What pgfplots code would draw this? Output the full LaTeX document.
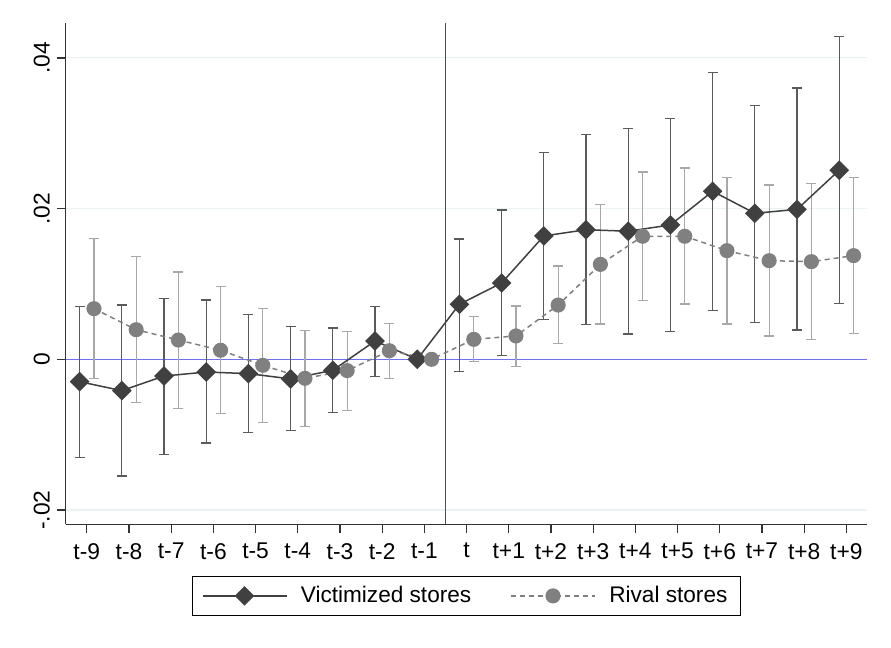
\documentclass[border=0pt]{standalone}
\usepackage{pgfplots}
\pgfplotsset{compat=1.18}
\usepackage{pgfplotstable}
\usepackage{fontspec}
\setmainfont{Liberation Sans}
\definecolor{axisgray}{HTML}{333333}
\definecolor{gridc}{RGB}{234,242,243}
\definecolor{vcol}{HTML}{404040}
\definecolor{vbar}{HTML}{5A5A5A}
\definecolor{rcol}{HTML}{808080}
\definecolor{rbar}{HTML}{A8A8A8}
\definecolor{zeroblue}{rgb}{0.44,0.44,0.94}
\definecolor{vred}{rgb}{0.78,0.08,0.24}

\pgfplotstableread{
i y hi lo
0 -0.00297 0.00698 -0.01306
1 -0.00416 0.00720 -0.01550
2 -0.00222 0.00810 -0.01260
3 -0.00169 0.00787 -0.01110
4 -0.00190 0.00590 -0.00970
5 -0.00260 0.00440 -0.00950
6 -0.00146 0.00416 -0.00710
7 0.00243 0.00703 -0.00230
8 0.00000 0.00000 0.00000
9 0.00730 0.01597 -0.00164
10 0.01013 0.01982 0.00048
11 0.01637 0.02743 0.00526
12 0.01720 0.02980 0.00464
13 0.01700 0.03060 0.00336
14 0.01783 0.03200 0.00367
15 0.02230 0.03810 0.00650
16 0.01938 0.03367 0.00490
17 0.01990 0.03600 0.00390
18 0.02510 0.04280 0.00738
}\victim

\pgfplotstableread{
i y hi lo
0 0.00672 0.01600 -0.00260
1 0.00393 0.01362 -0.00576
2 0.00256 0.01160 -0.00650
3 0.00120 0.00964 -0.00720
4 -0.00080 0.00670 -0.00840
5 -0.00252 0.00385 -0.00890
6 -0.00150 0.00370 -0.00680
7 0.00114 0.00473 -0.00260
8 0.00000 0.00000 0.00000
9 0.00265 0.00566 -0.00027
10 0.00310 0.00708 -0.00093
11 0.00720 0.01239 0.00207
12 0.01260 0.02057 0.00469
13 0.01633 0.02486 0.00778
14 0.01633 0.02540 0.00734
15 0.01442 0.02416 0.00469
16 0.01309 0.02314 0.00310
17 0.01296 0.02331 0.00260
18 0.01376 0.02416 0.00345
}\rival

\begin{document}
\begin{tikzpicture}[x=1pt,y=1pt]
\useasboundingbox (0,0) rectangle (445.5,324);
\begin{axis}[
  at={(32.85pt,61.85pt)}, anchor=south west,
  scale only axis, width=400.9pt, height=250.5pt,
  xmin=-0.5, xmax=18.5, ymin=-0.0219, ymax=0.0446,
  axis x line*=bottom, axis y line*=left,
  axis line style={draw=axisgray, line width=0.65pt},
  tick align=outside, major tick length=4.4pt,
  tick style={draw=axisgray, line width=0.65pt},
  xtick={0,1,...,18},
  xticklabels={t-9,t-8,t-7,t-6,t-5,t-4,t-3,t-2,t-1,t,t+1,t+2,t+3,t+4,t+5,t+6,t+7,t+8,t+9},
  ytick={-0.02,0,0.02,0.04},
  yticklabels={-.02,0,.02,.04},
  scaled y ticks=false,
  ticklabel style={font=\fontsize{11.4}{13}\selectfont},
  yticklabel style={rotate=90, anchor=south},
  xticklabel style={anchor=north, yshift=-1.5pt},
  ymajorgrids, grid style={draw=gridc, line width=0.55pt},
  legend image code/.code={\draw[mark repeat=2, mark phase=2, #1] plot coordinates {(0pt,0pt) (21pt,0pt) (42pt,0pt)};},
  legend style={at={(0.5,0)}, anchor=north, yshift=-25.85pt,
    draw=black, line width=0.6pt, inner xsep=4.5pt, inner ysep=2.8pt,
    font=\fontsize{11.3}{14}\selectfont,
    /tikz/every odd column/.append style={column sep=4.8pt},
    /tikz/every even column/.append style={column sep=17.5pt}},
  legend columns=2, legend cell align=left,
]
\addplot[forget plot, no marks, draw=zeroblue, solid, line width=0.6pt] coordinates {(-0.5,0) (18.5,0)};
\addplot[forget plot, no marks, draw=vred, solid, line width=0.55pt] coordinates {(8.5,-0.0219) (8.5,0.0446)};

\addplot[forget plot, draw=none, mark=none,
  error bars/.cd, y dir=both, y explicit,
  error bar style={draw=vbar, line width=0.6pt},
  error mark options={rotate=90, mark size=2.5pt, draw=vbar, line width=0.6pt}]
  table[x expr=\thisrow{i}-0.17, y=y, y error plus expr=\thisrow{hi}-\thisrow{y}, y error minus expr=\thisrow{y}-\thisrow{lo}] {\victim};
\addplot[forget plot, draw=none, mark=none,
  error bars/.cd, y dir=both, y explicit,
  error bar style={draw=rbar, line width=0.6pt},
  error mark options={rotate=90, mark size=2.5pt, draw=rbar, line width=0.6pt}]
  table[x expr=\thisrow{i}+0.17, y=y, y error plus expr=\thisrow{hi}-\thisrow{y}, y error minus expr=\thisrow{y}-\thisrow{lo}] {\rival};

\addplot[draw=vcol, line width=0.75pt, mark=square*, mark size=3.1pt,
  mark options={rotate=45, fill=vcol, draw=vcol, solid}]
  table[x expr=\thisrow{i}-0.17, y=y] {\victim};
\addlegendentry{Victimized stores}
\addplot[draw=rcol, line width=0.75pt, dash pattern=on 2.5pt off 2pt, mark=*, mark size=3.4pt,
  mark options={fill=rcol, draw=rcol, solid}]
  table[x expr=\thisrow{i}+0.17, y=y] {\rival};
\addlegendentry{Rival stores}
\end{axis}
\end{tikzpicture}
\end{document}
